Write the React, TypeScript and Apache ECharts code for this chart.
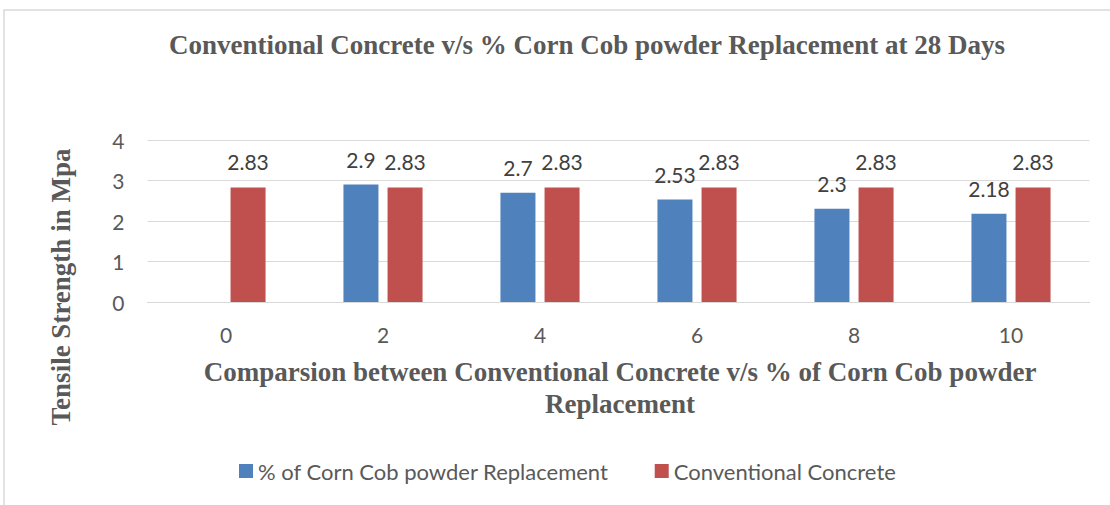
import React, { useEffect, useRef } from "react";
import * as echarts from "echarts";

const categories = ["0", "2", "4", "6", "8", "10"];
const cornCob = [0, 2.9, 2.7, 2.53, 2.3, 2.18];
const conventional = [2.83, 2.83, 2.83, 2.83, 2.83, 2.83];
const seriesNames = ["% of Corn Cob powder Replacement", "Conventional Concrete"];
const chartTitle = "Conventional Concrete v/s % Corn Cob powder Replacement at 28 Days";
const xTitle = "Comparsion between Conventional Concrete v/s % of Corn Cob powder\nReplacement";
const yTitle = "Tensile Strength in Mpa";

const LABEL_FONT = "Lato, 'Open Sans', sans-serif";
const SERIF = "'Liberation Serif', 'DejaVu Serif', serif";

export default function App() {
  const ref = useRef<HTMLDivElement>(null);
  useEffect(() => {
    if (!ref.current) return;
    const chart = echarts.init(ref.current, undefined, { renderer: "svg" });
    const labelCfg = {
      show: true,
      position: "top" as const,
      distance: 15,
      color: "#404040",
      fontSize: 21,
      fontFamily: LABEL_FONT,
      formatter: (p: any) => (p.value === 0 ? "" : String(p.value)),
    };
    chart.setOption({
      animation: false,
      backgroundColor: "#ffffff",
      grid: { left: 147.5, right: 20.5, top: 140, bottom: 203, containLabel: false },
      legend: {
        left: 234,
        top: 455,
        itemWidth: 14,
        itemHeight: 14,
        itemGap: 46,
        icon: "rect",
        textStyle: { color: "#595959", fontSize: 22, fontFamily: LABEL_FONT },
        data: seriesNames,
      },
      xAxis: {
        type: "category",
        data: categories,
        axisTick: { show: false },
        axisLine: { lineStyle: { color: "#d9d9d9", width: 1 } },
        axisLabel: { color: "#595959", fontSize: 21, fontFamily: LABEL_FONT, margin: 22 },
      },
      yAxis: {
        type: "value",
        min: 0,
        max: 4,
        interval: 1,
        axisLine: { show: false },
        axisTick: { show: false },
        splitLine: { lineStyle: { color: "#d9d9d9", width: 1 } },
        axisLabel: { color: "#595959", fontSize: 21, fontFamily: LABEL_FONT, margin: 23 },
      },
      series: [
        {
          name: seriesNames[0],
          type: "bar",
          data: cornCob,
          barWidth: 35,
          barGap: "26%",
          itemStyle: { color: "#4F81BD" },
          label: labelCfg,
        },
        {
          name: seriesNames[1],
          type: "bar",
          data: conventional,
          barWidth: 35,
          itemStyle: { color: "#C0504D" },
          label: labelCfg,
        },
      ],
      graphic: [
        {
          type: "rect",
          shape: { x: 4, y: 10, width: 1200, height: 600 },
          style: { fill: "none", stroke: "#d9d9d9", lineWidth: 1.5 },
          silent: true,
        },
        {
          type: "text",
          x: 587,
          y: 45,
          style: {
            text: chartTitle,
            fill: "#595959",
            font: `bold 27px ${SERIF}`,
            align: "center",
            verticalAlign: "middle",
          },
        },
        {
          type: "text",
          x: 620,
          y: 388,
          style: {
            text: xTitle,
            fill: "#595959",
            font: `bold 27px ${SERIF}`,
            align: "center",
            verticalAlign: "middle",
            lineHeight: 32,
          },
        },
        {
          type: "text",
          x: 61,
          y: 287,
          rotation: Math.PI / 2,
          style: {
            text: yTitle,
            fill: "#595959",
            font: `bold 27px ${SERIF}`,
            align: "center",
            verticalAlign: "middle",
          },
        },
      ],
    });
    return () => chart.dispose();
  }, []);
  return (
    <div
      ref={ref}
      style={{ position: "fixed", left: 0, top: 0, width: 1110, height: 505 }}
    />
  );
}
